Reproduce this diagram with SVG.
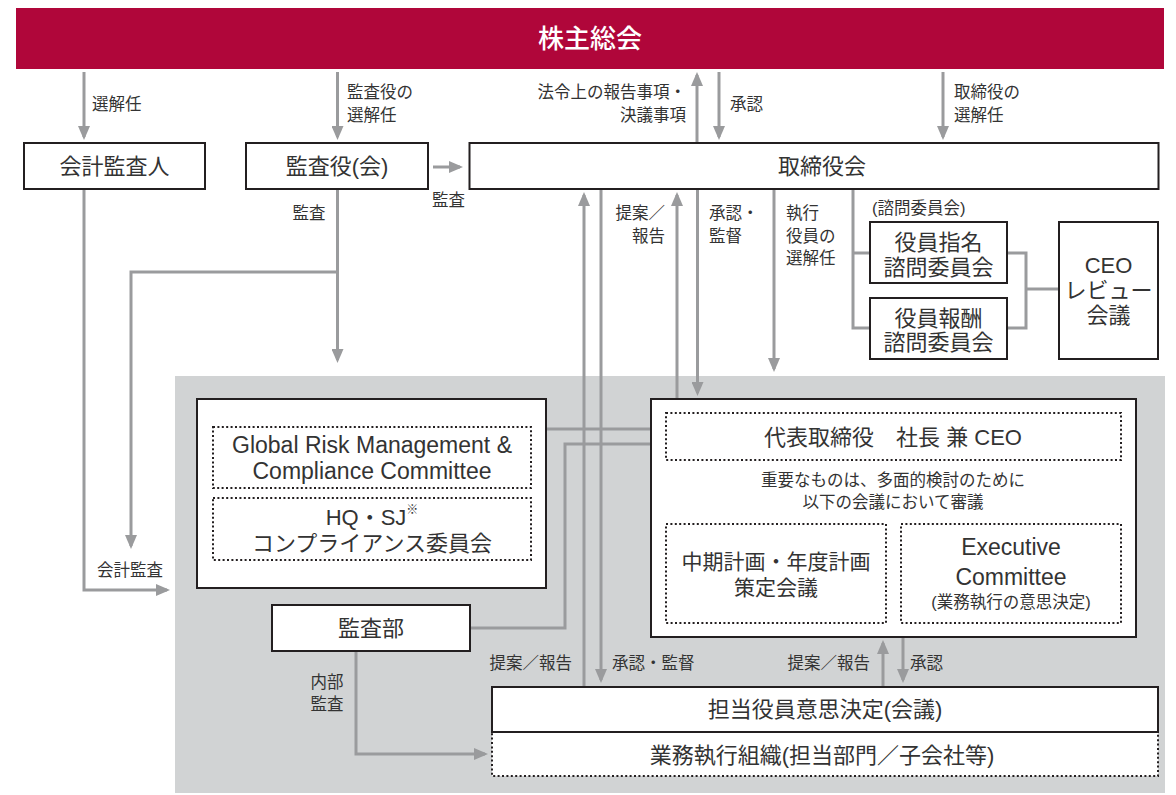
<svg xmlns="http://www.w3.org/2000/svg" width="1176" height="795" viewBox="0 0 1176 795">
<defs>
<style>
text{font-family:"Liberation Sans","Noto Sans CJK JP",sans-serif;fill:#333333;dominant-baseline:central}
.t{font-size:22px;text-anchor:middle}
.en{font-size:23px;text-anchor:middle}
.lb{font-size:16.5px}
.mid{text-anchor:middle}
.end{text-anchor:end}
.box{fill:#ffffff;stroke:#231f20;stroke-width:2}
.dot{fill:#ffffff;stroke:#231f20;stroke-width:2;stroke-dasharray:2 2.4}
.ln{fill:none;stroke:#9a9b9d;stroke-width:3}
.ar{fill:none;stroke:#9a9b9d;stroke-width:3;marker-end:url(#ah)}
</style>
<marker id="ah" markerWidth="14" markerHeight="12" refX="11" refY="6" orient="auto" markerUnits="userSpaceOnUse">
<path d="M0,0 L14,6 L0,12 Z" fill="#9a9b9d"/>
</marker>
</defs>

<rect x="175" y="376" width="990" height="417" fill="#d1d3d4"/>

<g id="shareholders">
<rect x="16" y="8" width="1148" height="61" fill="#b0063a"/>
<text x="590" y="39" style="font-size:26px;text-anchor:middle;fill:#ffffff;font-weight:500">株主総会</text>
</g>

<g id="connectors">
<path class="ar" d="M84 72 V137"/>
<path class="ar" d="M337.5 72 V137"/>
<path class="ar" d="M697 142 V75"/>
<path class="ar" d="M719 72 V137"/>
<path class="ar" d="M943 72 V137"/>
<path class="ar" d="M433 167 H460"/>
<path class="ar" d="M84 190 V590 H167"/>
<path class="ar" d="M337.5 190 V360"/>
<path class="ar" d="M337.5 272 H131 V546"/>
<path class="ar" d="M584 687 V195"/>
<path class="ar" d="M601 190 V680"/>
<path class="ar" d="M677 399 V195"/>
<path class="ar" d="M697.5 190 V393"/>
<path class="ar" d="M774 190 V369"/>
<path class="ln" d="M853 190 V328 H870 M853 253 H870"/>
<path class="ln" d="M1007 253 H1026 V328 H1007 M1026 289 H1059"/>
<path class="ln" d="M546 429 H666"/>
<path class="ln" d="M470 628 H565 V444 H666"/>
<path class="ar" d="M356 651 V754 H485"/>
<path class="ar" d="M883 687 V643"/>
<path class="ar" d="M903 637 V680"/>
<text class="lb" x="92" y="104">選解任</text>
<text class="lb" x="347" y="92">監査役の</text>
<text class="lb" x="347" y="115">選解任</text>
<text class="lb end" x="686" y="92">法令上の報告事項・</text>
<text class="lb end" x="686" y="115">決議事項</text>
<text class="lb" x="730" y="104">承認</text>
<text class="lb" x="954" y="92">取締役の</text>
<text class="lb" x="954" y="115">選解任</text>
<text class="lb mid" x="448.5" y="200">監査</text>
<text class="lb mid" x="309" y="213">監査</text>
<text class="lb end" x="665" y="213">提案／</text>
<text class="lb end" x="665" y="236">報告</text>
<text class="lb" x="709" y="213">承認・</text>
<text class="lb" x="709" y="236">監督</text>
<text class="lb" x="786" y="213">執行</text>
<text class="lb" x="786" y="236">役員の</text>
<text class="lb" x="786" y="258">選解任</text>
<text class="lb" x="872" y="208">(諮問委員会)</text>
<text class="lb" x="97" y="570">会計監査</text>
<text class="lb mid" x="327" y="682">内部</text>
<text class="lb mid" x="327" y="704">監査</text>
<text class="lb end" x="572" y="663">提案／報告</text>
<text class="lb" x="612" y="663">承認・監督</text>
<text class="lb end" x="870" y="663">提案／報告</text>
<text class="lb" x="910" y="663">承認</text>
</g>

<g id="accounting-auditor">
<rect class="box" x="24" y="143" width="181" height="46"/>
<text class="t" x="114.5" y="166">会計監査人</text>
</g>

<g id="audit-board">
<rect class="box" x="246" y="143" width="182" height="46"/>
<text class="t" x="337" y="166">監査役(会)</text>
</g>

<g id="board">
<rect class="box" x="469.5" y="143" width="689" height="46"/>
<text class="t" x="822" y="166">取締役会</text>
</g>

<g id="nomination-committee">
<rect class="box" x="870" y="222" width="137" height="61"/>
<text class="t" x="938.5" y="242">役員指名</text>
<text class="t" x="938.5" y="267">諮問委員会</text>
</g>

<g id="compensation-committee">
<rect class="box" x="870" y="298" width="137" height="61"/>
<text class="t" x="938.5" y="318">役員報酬</text>
<text class="t" x="938.5" y="342">諮問委員会</text>
</g>

<g id="ceo-review">
<rect class="box" x="1059" y="222" width="99" height="137"/>
<text class="t" x="1108.5" y="265">CEO</text>
<text class="t" x="1108.5" y="290">レビュー</text>
<text class="t" x="1108.5" y="315">会議</text>
</g>

<g id="risk-compliance">
<rect class="box" x="197" y="399" width="349" height="189"/>
<rect class="dot" x="213" y="427" width="318" height="61"/>
<text class="en" x="372" y="444.5">Global Risk Management &amp;</text>
<text class="en" x="372" y="470.5">Compliance Committee</text>
<rect class="dot" x="213" y="498" width="318" height="62"/>
<text class="t" x="372" y="517">HQ・SJ<tspan style="font-size:12px" dy="-7">※</tspan></text>
<text class="t" x="372" y="543">コンプライアンス委員会</text>
</g>

<g id="internal-audit">
<rect class="box" x="272" y="605" width="198" height="46"/>
<text class="t" x="371" y="628">監査部</text>
</g>

<g id="ceo">
<rect class="box" x="651" y="399" width="485" height="238"/>
<rect class="dot" x="666" y="413" width="455" height="47"/>
<text class="t" x="893" y="437">代表取締役　社長 兼 CEO</text>
<text class="lb mid" x="893" y="480">重要なものは、多面的検討のために</text>
<text class="lb mid" x="893" y="502">以下の会議において審議</text>
<rect class="dot" x="666" y="524" width="220" height="99"/>
<text class="t" x="776" y="561" style="font-size:21px">中期計画・年度計画</text>
<text class="t" x="776" y="587" style="font-size:21px">策定会議</text>
<rect class="dot" x="901" y="524" width="220" height="99"/>
<text class="en" x="1011" y="547">Executive</text>
<text class="en" x="1011" y="577">Committee</text>
<text class="lb mid" x="1011" y="602">(業務執行の意思決定)</text>
</g>

<g id="business-org">
<rect class="dot" x="492" y="732" width="666" height="44"/>
<text class="t" x="822" y="755">業務執行組織(担当部門／子会社等)</text>
</g>

<g id="officer-decision">
<rect class="box" x="492" y="687" width="666" height="45"/>
<text class="t" x="825" y="709.5">担当役員意思決定(会議)</text>
</g>
</svg>
